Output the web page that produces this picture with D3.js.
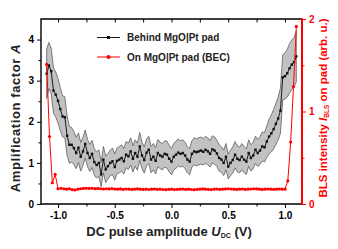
<!DOCTYPE html>
<html lang="en">
<head>
<meta charset="UTF-8">
<title>Amplification factor vs DC pulse</title>
<style>
    body { margin: 0; background: #fff; }
    svg { display: block; font-family: "Liberation Sans", Arial, sans-serif; font-weight: bold; }
</style>
</head>
<body>
<svg id="chart"></svg>
<script src="https://d3js.org/d3.v7.min.js"></script>
<script>
    // DC sweep grids (V): black trace sampled every 20 mV, red every 25 mV, both from -1.1 V
    const blackStart = -1.1, blackStep = 0.02;
    const redStart = -1.1, redStep = 0.025;

    // amplification factor A behind the pad (mean) and half width of the grey band
    const ampMean = [
        3.17, 3.37, 3.23, 2.76, 2.66, 2.51, 2.31, 2.13, 2.11, 1.66,
        1.44, 1.44, 1.36, 1.24, 1.37, 1.15, 1.28, 1.46, 1.24, 1.12,
        1.22, 1.02, 0.95, 1.00, 0.72, 1.08, 0.84, 0.92, 1.00, 1.04,
        0.90, 1.05, 1.08, 1.12, 1.04, 1.20, 1.16, 1.28, 1.10, 1.24,
        1.15, 1.40, 1.18, 1.07, 1.25, 1.32, 1.08, 1.15, 1.05, 1.24,
        1.18, 1.15, 1.22, 1.20, 1.10, 1.03, 1.15, 1.20, 1.25, 1.22,
        1.24, 1.18, 1.08, 1.03, 1.22, 1.28, 1.26, 1.28, 1.30, 1.27,
        1.32, 1.28, 1.22, 1.33, 1.30, 1.23, 1.12, 1.08, 1.00, 1.15,
        0.91, 1.00, 1.07, 1.20, 1.10, 1.07, 1.15, 1.08, 1.03, 1.24,
        1.12, 1.18, 1.32, 1.24, 1.30, 1.40, 1.38, 1.52, 1.64, 1.72,
        1.82, 1.95, 2.08, 2.27, 3.08, 3.11, 3.18, 3.30, 3.39, 3.45,
        3.59
    ];
    const ampErr = [
        0.60, 0.56, 0.55, 0.55, 0.55, 0.54, 0.52, 0.50, 0.50, 0.48,
        0.45, 0.42, 0.40, 0.38, 0.36, 0.35, 0.34, 0.34, 0.33, 0.33,
        0.33, 0.32, 0.32, 0.32, 0.30, 0.32, 0.32, 0.31, 0.31, 0.32,
        0.32, 0.31, 0.32, 0.32, 0.31, 0.32, 0.32, 0.33, 0.32, 0.32,
        0.33, 0.34, 0.32, 0.32, 0.33, 0.33, 0.32, 0.32, 0.32, 0.33,
        0.32, 0.32, 0.32, 0.33, 0.32, 0.32, 0.32, 0.33, 0.33, 0.32,
        0.32, 0.32, 0.32, 0.32, 0.32, 0.33, 0.33, 0.33, 0.33, 0.32,
        0.33, 0.33, 0.32, 0.33, 0.33, 0.32, 0.32, 0.31, 0.31, 0.32,
        0.30, 0.31, 0.32, 0.32, 0.32, 0.31, 0.32, 0.32, 0.31, 0.32,
        0.32, 0.32, 0.33, 0.33, 0.34, 0.35, 0.36, 0.38, 0.42, 0.45,
        0.48, 0.50, 0.52, 0.55, 0.55, 0.56, 0.58, 0.60, 0.60, 0.60,
        0.62
    ];

    // BLS intensity on the pad (arb. u.), right axis
    const blsOnPad = [
        1.51, 0.73, 0.23, 0.32, 0.165, 0.17, 0.165, 0.16, 0.165, 0.155,
        0.152, 0.16, 0.165, 0.168, 0.17, 0.168, 0.17, 0.166, 0.168, 0.165,
        0.162, 0.165, 0.163, 0.166, 0.162, 0.16, 0.163, 0.158, 0.162, 0.16,
        0.158, 0.16, 0.163, 0.16, 0.158, 0.16, 0.157, 0.16, 0.162, 0.158,
        0.16, 0.157, 0.155, 0.158, 0.16, 0.156, 0.158, 0.16, 0.162, 0.158,
        0.16, 0.157, 0.155, 0.158, 0.16, 0.163, 0.16, 0.158, 0.156, 0.16,
        0.162, 0.158, 0.16, 0.163, 0.165, 0.162, 0.16, 0.158, 0.16, 0.162,
        0.158, 0.16, 0.162, 0.165, 0.163, 0.16, 0.158, 0.16, 0.162, 0.16,
        0.158, 0.16, 0.162, 0.16, 0.16, 0.25, 0.67, 1.27, 1.92
    ];

    const xMajor = [-1.0, -0.5, 0.0, 0.5, 1.0];
    const xMinor = [-0.75, -0.25, 0.25, 0.75];
    const yLeftMajor = [0, 1, 2, 3, 4];
    const yLeftMinor = [0.5, 1.5, 2.5, 3.5];
    const yRightMajor = [0, 1, 2];
    const yRightMinor = [0.5, 1.5];
    const legendLabels = ["Behind MgO|Pt pad", "On MgO|Pt pad (BEC)"];

    const width = 338, height = 249;
    const margin = { top: 19, right: 36, bottom: 45, left: 41 };
    const red = "#ff0000";

    const svg = d3.select("#chart").attr("width", width).attr("height", height);

    const x = d3.scaleLinear().domain([-1.15, 1.15]).range([margin.left, width - margin.right]);
    const yL = d3.scaleLinear().domain([0, 4.5]).range([height - margin.bottom, margin.top]);
    const yR = d3.scaleLinear().domain([0, 2]).range([height - margin.bottom, margin.top]);

    const black = ampMean.map((m, i) => ({ u: blackStart + i * blackStep, m: m, e: ampErr[i] }));
    const redPts = blsOnPad.map((v, i) => ({ u: redStart + i * redStep, v: v }));

    // grey band
    svg.append("path")
        .datum(black)
        .attr("fill", "#c2c2c2")
        .attr("stroke", "#5e5e5e")
        .attr("stroke-width", 0.8)
        .attr("d", d3.area()
            .x(d => x(d.u))
            .y0(d => yL(d.m - d.e))
            .y1(d => yL(d.m + d.e)));

    // black mean line and square markers
    svg.append("path")
        .datum(black)
        .attr("fill", "none")
        .attr("stroke", "#1a1a1a")
        .attr("stroke-width", 1)
        .attr("d", d3.line().x(d => x(d.u)).y(d => yL(d.m)));

    svg.append("g")
        .selectAll("rect")
        .data(black)
        .join("rect")
        .attr("x", d => x(d.u) - 1.2)
        .attr("y", d => yL(d.m) - 1.2)
        .attr("width", 2.4)
        .attr("height", 2.4)
        .attr("fill", "#111");

    // red line and dots
    svg.append("path")
        .datum(redPts)
        .attr("fill", "none")
        .attr("stroke", red)
        .attr("stroke-width", 1)
        .attr("d", d3.line().x(d => x(d.u)).y(d => yR(d.v)));

    svg.append("g")
        .selectAll("circle")
        .data(redPts)
        .join("circle")
        .attr("cx", d => x(d.u))
        .attr("cy", d => yR(d.v))
        .attr("r", 1.6)
        .attr("fill", red);

    // axes
    const fmt = d => d.toFixed(1);
    const bottomY = height - margin.bottom;
    const rightX = width - margin.right;

    function styleAxis(g, color) {
        g.select(".domain").remove();
        g.selectAll("line").attr("stroke", color).attr("stroke-width", 1);
        g.selectAll("text").attr("fill", color).attr("font-size", "10px").attr("font-weight", "bold");
    }

    svg.append("g")
        .attr("transform", `translate(0,${bottomY})`)
        .call(d3.axisBottom(x).tickValues(xMajor).tickFormat(fmt).tickSize(4).tickPadding(4))
        .call(g => styleAxis(g, "#000"));
    svg.append("g")
        .attr("transform", `translate(0,${bottomY})`)
        .call(d3.axisBottom(x).tickValues(xMinor).tickFormat("").tickSize(2.5))
        .call(g => styleAxis(g, "#000"));
    svg.append("g")
        .attr("transform", `translate(0,${margin.top})`)
        .call(d3.axisTop(x).tickValues(xMajor.concat(xMinor)).tickFormat("").tickSize(-3.5))
        .call(g => styleAxis(g, "#000"));

    svg.append("g")
        .attr("transform", `translate(${margin.left},0)`)
        .call(d3.axisLeft(yL).tickValues(yLeftMajor).tickFormat(d3.format("d")).tickSize(4).tickPadding(3))
        .call(g => styleAxis(g, "#000"));
    svg.append("g")
        .attr("transform", `translate(${margin.left},0)`)
        .call(d3.axisLeft(yL).tickValues(yLeftMinor).tickFormat("").tickSize(2.5))
        .call(g => styleAxis(g, "#000"));

    svg.append("g")
        .attr("transform", `translate(${rightX},0)`)
        .call(d3.axisRight(yR).tickValues(yRightMajor).tickFormat(d3.format("d")).tickSize(4).tickPadding(3))
        .call(g => styleAxis(g, red));
    svg.append("g")
        .attr("transform", `translate(${rightX},0)`)
        .call(d3.axisRight(yR).tickValues(yRightMinor).tickFormat("").tickSize(2.5))
        .call(g => styleAxis(g, red));

    // frame
    svg.append("path")
        .attr("fill", "none")
        .attr("stroke", "#000")
        .attr("stroke-width", 1.4)
        .attr("d", `M${rightX},${margin.top}H${margin.left}V${bottomY}H${rightX}`);
    svg.append("line")
        .attr("x1", rightX).attr("x2", rightX)
        .attr("y1", margin.top - 0.7).attr("y2", bottomY + 0.7)
        .attr("stroke", red)
        .attr("stroke-width", 2);

    // axis titles
    const xt = svg.append("text")
        .attr("x", 169).attr("y", 236)
        .attr("text-anchor", "middle")
        .attr("font-size", "13px")
        .attr("fill", "#222");
    xt.append("tspan").text("DC pulse amplitude ");
    xt.append("tspan").attr("font-style", "italic").text("U");
    xt.append("tspan").attr("font-size", "7px").attr("dy", 2).text("DC");
    xt.append("tspan").attr("dy", -2).text(" (V)");

    const ylt = svg.append("text")
        .attr("transform", "translate(20,118) rotate(-90)")
        .attr("text-anchor", "middle")
        .attr("font-size", "13px")
        .attr("letter-spacing", "0.6px")
        .attr("fill", "#222");
    ylt.append("tspan").text("Amplification factor ");
    ylt.append("tspan").attr("font-style", "italic").text("A");

    const yrt = svg.append("text")
        .attr("transform", "translate(327,108) rotate(-90)")
        .attr("text-anchor", "middle")
        .attr("font-size", "11.5px")
        .attr("fill", red);
    yrt.append("tspan").text("BLS intensity ");
    yrt.append("tspan").attr("font-style", "italic").text("I");
    yrt.append("tspan").attr("font-size", "6.5px").attr("dy", 2).text("BLS");
    yrt.append("tspan").attr("dy", -2).text(" on pad (arb. u.)");

    // legend
    const legend = svg.append("g");
    legendLabels.forEach((label, i) => {
        const ly = 37.5 + i * 19.5;
        const col = i === 0 ? "#1a1a1a" : red;
        legend.append("line")
            .attr("x1", 97).attr("x2", 120).attr("y1", ly).attr("y2", ly)
            .attr("stroke", col).attr("stroke-width", 1);
        if (i === 0) {
            legend.append("rect").attr("x", 107).attr("y", ly - 1.5).attr("width", 3).attr("height", 3).attr("fill", "#111");
        } else {
            legend.append("circle").attr("cx", 108.5).attr("cy", ly).attr("r", 2).attr("fill", red);
        }
        legend.append("text")
            .attr("x", 127).attr("y", ly + 3.5)
            .attr("font-size", "10px")
            .attr("fill", "#222")
            .text(label);
    });
</script>
</body>
</html>
